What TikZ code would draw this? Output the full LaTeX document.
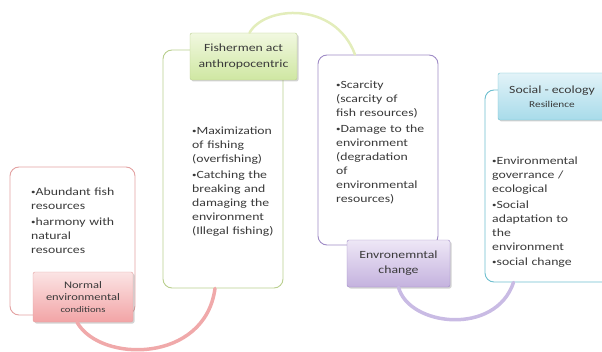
\documentclass[tikz,border=0pt]{standalone}
\usepackage{fontspec}
\setmainfont[FakeStretch=1.25]{Carlito}
\usepackage{tikz}
\usetikzlibrary{shadows}
\definecolor{redline}{HTML}{E3A2A2}
\definecolor{redtop}{HTML}{FBE4E4}
\definecolor{redbot}{HTML}{F2A4A6}
\definecolor{redarc}{HTML}{F0A9AA}
\definecolor{greenline}{HTML}{B9CF8E}
\definecolor{greentop}{HTML}{F1F8E0}
\definecolor{greenbot}{HTML}{CFE7A2}
\definecolor{greenarc}{HTML}{E3EDBB}
\definecolor{purpleline}{HTML}{9F8BC6}
\definecolor{purpletop}{HTML}{EEE7F6}
\definecolor{purplebot}{HTML}{C4B2DE}
\definecolor{purplearc}{HTML}{C9BBE4}
\definecolor{tealline}{HTML}{6EBFCF}
\definecolor{tealtop}{HTML}{E2F3F8}
\definecolor{tealbot}{HTML}{A8DBEA}
\definecolor{bodytext}{HTML}{3A3A3A}
\newcommand{\dotmark}{\raisebox{0.2ex}{\scalebox{0.65}{\textbullet}}}
\newcommand{\bitem}[1]{\par\addvspace{1.5pt}\setbox0\hbox{\dotmark}\hangindent\wd0\hangafter1\noindent\dotmark#1\par}

\begin{document}
\begin{tikzpicture}[
        x=1pt, y=1pt,
        body/.style={
            rectangle,
            rounded corners=9pt,
            fill=white,
            line width=0.9pt,
            inner sep=0pt
        },
        headbox/.style={
            rectangle,
            rounded corners=2pt,
            align=center,
            inner sep=1pt,
            text=bodytext,
            drop shadow={shadow xshift=1.5pt, shadow yshift=-1.5pt, opacity=0.35}
        },
        bullets/.style={
            anchor=north west,
            text width=100pt,
            align=left,
            inner sep=0pt,
            text=bodytext,
            font=\fontsize{11}{14}\selectfont
        },
        ribbon/.style={line width=3.5pt, line cap=round}
    ]
        \useasboundingbox (0,0) rectangle (602,351);
        \clip (0,0) rectangle (602,351);

        % Bodies
        \node[body, draw=redline, minimum width=125pt, minimum height=148pt] (redbody) at (72.5,110) {};
        \node[body, draw=greenline, minimum width=120pt, minimum height=238pt] (greenbody) at (223,182) {};
        \node[body, draw=purpleline, minimum width=120pt, minimum height=190pt] (purplebody) at (378,201) {};
        \node[body, draw=tealline, minimum width=127pt, minimum height=192pt] (tealbody) at (548.5,165) {};

        % Headings
        \node[headbox, draw=redline, top color=redtop, bottom color=redbot,
              minimum width=100pt, minimum height=50pt, font=\fontsize{10}{12}\selectfont] (redlabel) at (83,54)
              {Normal\\environmental\\{\fontsize{8.5}{10}\selectfont conditions}};
        \node[headbox, draw=greenline, top color=greentop, bottom color=greenbot,
              minimum width=107pt, minimum height=47pt, font=\fontsize{11}{16}\selectfont] (greenlabel) at (243.5,294.5)
              {Fishermen act\\anthropocentric};
        \node[headbox, draw=purpleline, top color=purpletop, bottom color=purplebot,
              minimum width=103pt, minimum height=47pt, font=\fontsize{11}{15}\selectfont] (purplelabel) at (398.5,87.5)
              {Envronemntal\\change};
        \node[headbox, draw=tealline, top color=tealtop, bottom color=tealbot,
              minimum width=108pt, minimum height=47pt, font=\fontsize{11}{14}\selectfont] (teallabel) at (552,254.5)
              {Social - ecology\\{\fontsize{9}{10}\selectfont Resilience}};

        % Lists
        \node[bullets] (redtext) at (31,171)
            {\bitem{Abundant fish\\resources}\bitem{harmony with\\natural\\resources}};
        \node[bullets] (greentext) at (192,232)
            {\bitem{Maximization\\of fishing\\(overfishing)}\bitem{Catching the\\breaking and\\damaging the\\environment\\(Illegal fishing)}};
        \node[bullets] (purpletext) at (336,278)
            {\bitem{Scarcity\\(scarcity of\\fish resources)}\bitem{Damage to the\\environment\\(degradation\\of\\environmental\\resources)}};
        \node[bullets] (tealtext) at (492,202)
            {\bitem{Environmental\\goverrance /\\ecological}\bitem{Social\\adaptation to\\the\\environment}\bitem{social change}};

        % Arcs
        \draw[ribbon, redarc] ([xshift=-6pt]redlabel.south) .. controls +(23,-41) and +(-10,-75) .. ([xshift=-8pt]greenbody.south);
        \draw[ribbon, greenarc, line width=2.5pt] ([xshift=6pt]greenlabel.north) .. controls +(15,27) and +(-20,54) .. ([xshift=-23pt]purplebody.north);
        \draw[ribbon, purplearc] (purplelabel.south) .. controls +(10,-39) and +(-18,-54) .. ([xshift=-35pt]tealbody.south);

    \end{tikzpicture}
\end{document}
